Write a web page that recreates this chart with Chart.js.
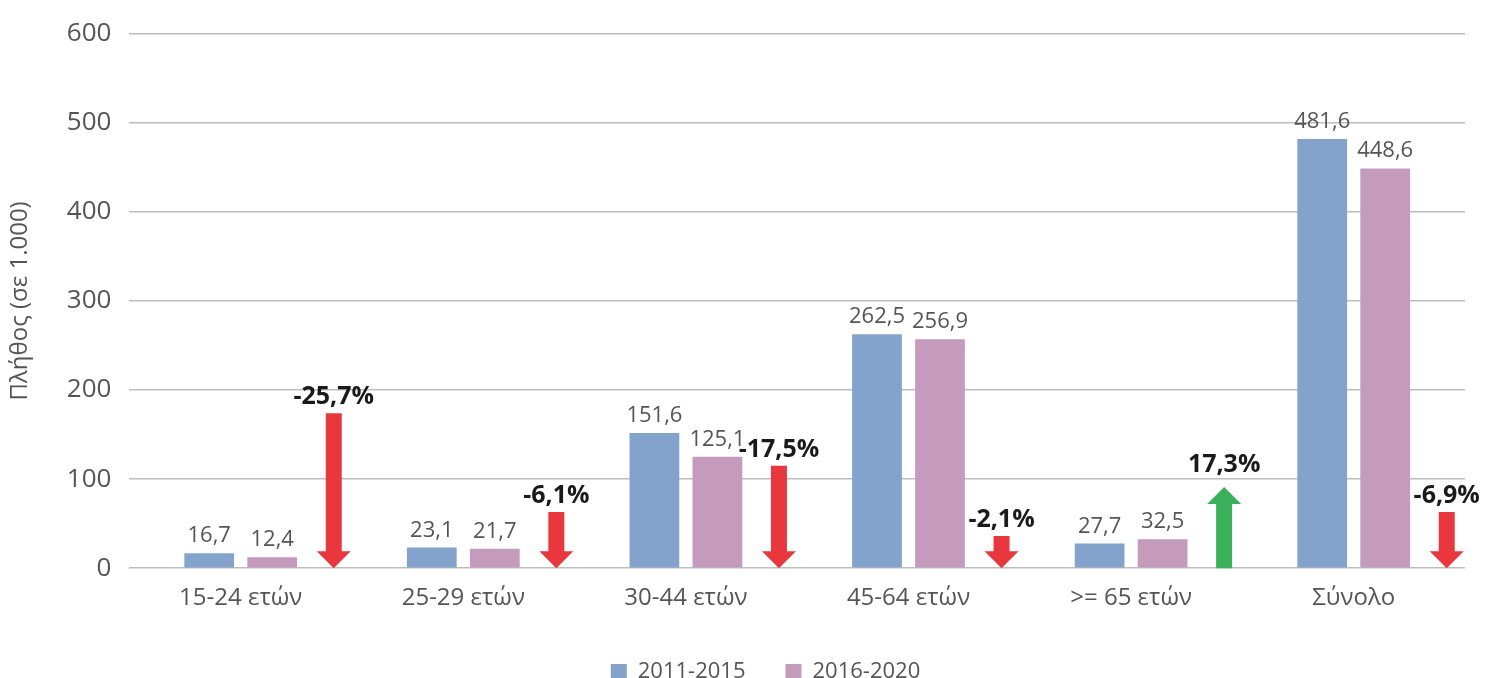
<!DOCTYPE html>
<html>
<head>
<meta charset="utf-8">
<script src="https://cdn.jsdelivr.net/npm/chart.js@4"></script>
<style>
  html, body { margin: 0; padding: 0; background: #fff; }
</style>
</head>
<body>
<canvas id="chart" width="1490" height="678"></canvas>
<script>
const categories = ["15-24 ετών", "25-29 ετών", "30-44 ετών", "45-64 ετών", ">= 65 ετών", "Σύνολο"];
const series2011 = [16.7, 23.1, 151.6, 262.5, 27.7, 481.6];
const series2016 = [12.4, 21.7, 125.1, 256.9, 32.5, 448.6];
const changePct = [-25.7, -6.1, -17.5, -2.1, 17.3, -6.9];
// arrow lengths as drawn in the picture, in axis units
const arrowLen = [174, 63, 115, 36, 91, 63];
const yTicks = [0, 100, 200, 300, 400, 500, 600];

const FONT = "'Open Sans', 'Noto Sans', sans-serif";
const GREY = "#555555";
const fmt = v => v.toFixed(1).replace(".", ",");

const extras = {
  id: "extras",
  afterLayout(chart) {
    // the legend sits a bit right of the page centre in the original
    chart.legend.left += 30;
    chart.legend.right += 30;
  },
  afterDatasetsDraw(chart) {
    const ctx = chart.ctx;
    const x = chart.scales.x, y = chart.scales.y;
    const catW = x.getPixelForValue(1) - x.getPixelForValue(0);

    // value labels on bars
    ctx.save();
    ctx.font = "22px " + FONT;
    ctx.fillStyle = GREY;
    ctx.textAlign = "center";
    ctx.textBaseline = "alphabetic";
    chart.data.datasets.forEach((ds, di) => {
      chart.getDatasetMeta(di).data.forEach((bar, i) => {
        ctx.fillText(fmt(ds.data[i]), bar.x, bar.y - 11);
      });
    });
    ctx.restore();

    // change arrows
    const base = y.getPixelForValue(0);
    changePct.forEach((pct, i) => {
      const cx = x.getPixelForValue(i) + catW * 0.418;
      const top = y.getPixelForValue(arrowLen[i]);
      const shaft = 8, head = 17, headH = 17;
      ctx.save();
      ctx.beginPath();
      if (pct < 0) {
        ctx.fillStyle = "#e8383d";
        ctx.moveTo(cx - shaft, top);
        ctx.lineTo(cx + shaft, top);
        ctx.lineTo(cx + shaft, base - headH);
        ctx.lineTo(cx + head, base - headH);
        ctx.lineTo(cx, base);
        ctx.lineTo(cx - head, base - headH);
        ctx.lineTo(cx - shaft, base - headH);
      } else {
        ctx.fillStyle = "#3bb05a";
        ctx.moveTo(cx - shaft, base);
        ctx.lineTo(cx + shaft, base);
        ctx.lineTo(cx + shaft, top + headH);
        ctx.lineTo(cx + head, top + headH);
        ctx.lineTo(cx, top);
        ctx.lineTo(cx - head, top + headH);
        ctx.lineTo(cx - shaft, top + headH);
      }
      ctx.closePath();
      ctx.fill();
      ctx.font = "bold 25px " + FONT;
      ctx.fillStyle = "#1a1a1a";
      ctx.textAlign = "center";
      ctx.textBaseline = "alphabetic";
      ctx.fillText(fmt(pct) + "%", cx, top - (pct < 0 ? 9 : 15));
      ctx.restore();
    });
  }
};

new Chart(document.getElementById("chart"), {
  type: "bar",
  data: {
    labels: categories,
    datasets: [
      { label: "2011-2015", data: series2011, backgroundColor: "#84a3cc" },
      { label: "2016-2020", data: series2016, backgroundColor: "#c49bbc" }
    ]
  },
  options: {
    responsive: false,
    animation: false,
    maintainAspectRatio: false,
    categoryPercentage: 0.566,
    barPercentage: 0.79,
    layout: { padding: { top: 22, right: 25, left: 6, bottom: -15 } },
    plugins: {
      legend: {
        position: "bottom",
        labels: {
          boxWidth: 16, boxHeight: 16, padding: 40,
          color: GREY, font: { family: FONT, size: 22 }
        }
      },
      tooltip: { enabled: false }
    },
    scales: {
      x: {
        grid: { display: false },
        border: { display: false },
        ticks: { color: GREY, padding: 8, font: { family: FONT, size: 24 } }
      },
      y: {
        min: 0, max: 600,
        afterBuildTicks: s => { s.ticks = yTicks.map(v => ({ value: v })); },
        grid: { color: "#bdbdbd", lineWidth: 1.5, drawTicks: false },
        border: { display: false },
        title: { display: true, text: "Πλήθος (σε 1.000)", color: GREY, font: { family: FONT, size: 24 }, padding: { top: 0, bottom: 14 } },
        ticks: { color: GREY, padding: 18, font: { family: FONT, size: 26 } }
      }
    }
  },
  plugins: [extras]
});
</script>
</body>
</html>
